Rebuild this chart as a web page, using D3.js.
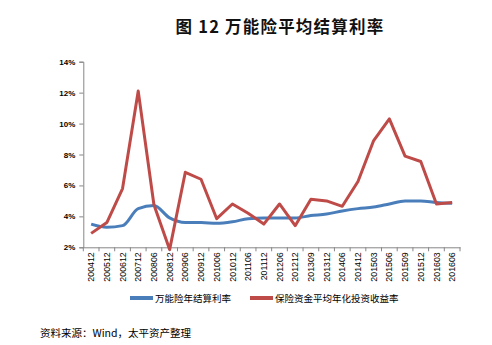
<!DOCTYPE html>
<html><head><meta charset="utf-8">
<script src="https://cdn.jsdelivr.net/npm/d3@7"></script>
<style>
html,body{margin:0;padding:0;background:#fff;}
svg{display:block;}
</style>
</head><body>
<svg id="c" width="492" height="345"></svg>
<script>
const categories = ["200412","200512","200612","200712","200806","200812","200906","200912","201006","201012","201106","201112","201206","201212","201309","201312","201406","201412","201503","201506","201509","201512","201603","201606"];
const universalRate = [3.5,3.3,3.4,4.5,4.7,3.9,3.6,3.6,3.55,3.65,3.85,3.9,3.9,3.9,4.05,4.15,4.35,4.5,4.6,4.8,5.0,5.0,4.9,4.85];
const investReturn = [2.9,3.6,5.8,12.1,4.75,1.85,6.85,6.4,3.85,4.8,4.2,3.5,4.8,3.4,5.1,5.0,4.65,6.25,8.9,10.3,7.9,7.55,4.8,4.9];
const yTicks = [2,4,6,8,10,12,14];
const seriesNames = ["万能险年结算利率","保险资金平均年化投资收益率"];
const titleText = "图 12 万能险平均结算利率";
const sourceText = "资料来源：Wind，太平资产整理";

const svg = d3.select("#c");
const cjk = "'Noto Sans CJK SC', sans-serif";
const x = d3.scaleBand().domain(categories).range([83.3, 460]);
const y = d3.scaleLinear().domain([2,14]).range([247.3, 61.7]);
const axisColor = "#868686";

svg.append("text").attr("x", 280).attr("y", 33).attr("text-anchor","middle")
  .style("font-family", cjk).style("font-size","16.5px").style("font-weight","bold")
  .style("letter-spacing","1.2px").attr("fill","#111").text(titleText);

// Y axis
const ya = svg.append("g").attr("transform","translate(83.3,0)")
  .call(d3.axisLeft(y).tickValues(yTicks).tickSize(4).tickPadding(4).tickFormat(d => d + "%"));
ya.select(".domain").attr("stroke", axisColor);
ya.selectAll(".tick line").attr("stroke", axisColor);
ya.selectAll(".tick text").style("font-family","'Liberation Sans', Arial, sans-serif")
  .style("font-size","8px").style("font-weight","bold").attr("fill","#000");

// X axis
const xa = svg.append("g").attr("transform","translate(0,247.3)")
  .call(d3.axisBottom(x).tickSize(0).tickSizeOuter(0));
xa.select(".domain").attr("stroke", axisColor);
xa.selectAll(".tick line").remove();
xa.selectAll(".tick text")
  .attr("transform","rotate(-90)").attr("x",-5).attr("y",0).attr("dy","0.35em")
  .attr("text-anchor","end")
  .style("font-family","'Liberation Sans', Arial, sans-serif").style("font-size","8.8px").attr("fill","#000");
// boundary ticks
const bounds = categories.map(c => x(c)).concat([x.range()[1]]);
xa.selectAll(".btick").data(bounds).enter().append("line")
  .attr("x1", d => d).attr("x2", d => d).attr("y1", 0).attr("y2", 4).attr("stroke", axisColor);

const cx = (d,i) => x(categories[i]) + x.bandwidth()/2;
const lineBlue = d3.line().x(cx).y(d => y(d)).curve(d3.curveMonotoneX);
const lineRed = d3.line().x(cx).y(d => y(d));

svg.append("path").datum(universalRate).attr("d", lineBlue).attr("fill","none")
  .attr("stroke","#4A7EBB").attr("stroke-width",3).attr("stroke-linejoin","round");
svg.append("path").datum(investReturn).attr("d", lineRed).attr("fill","none")
  .attr("stroke","#BE4B48").attr("stroke-width",3).attr("stroke-linejoin","round");

// Legend
const legend = [{name: seriesNames[0], color:"#4A7EBB", x:130},{name: seriesNames[1], color:"#BE4B48", x:250}];
legend.forEach(l => {
  svg.append("line").attr("x1", l.x).attr("x2", l.x+23).attr("y1",298).attr("y2",298)
    .attr("stroke", l.color).attr("stroke-width",4);
  svg.append("text").attr("x", l.x+25).attr("y", 301.5).style("font-family", cjk)
    .style("font-size","9.5px").attr("fill","#000").text(l.name);
});

svg.append("text").attr("x", 40).attr("y", 337).style("font-family", cjk)
  .style("font-size","10.5px").attr("fill","#000").text(sourceText);
</script>
</body></html>
